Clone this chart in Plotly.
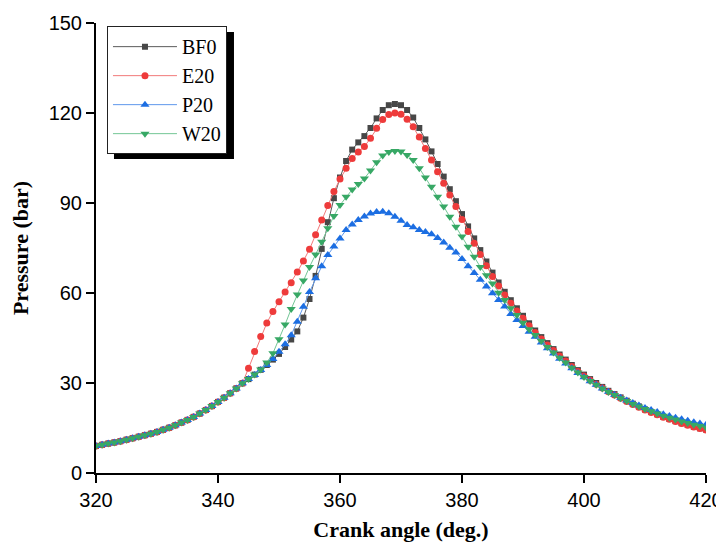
import plotly.graph_objects as go

crank_angle = list(range(320, 421))

bf0 = [9.0, 9.4, 9.8, 10.2, 10.6, 11.1, 11.6, 12.1, 12.6, 13.1,
       13.7, 14.4, 15.1, 15.9, 16.8, 17.7, 18.7, 19.8, 21.0, 22.3,
       23.7, 25.1, 26.6, 28.2, 29.9,
       31.3, 32.8, 34.4, 36.0, 37.8, 39.7, 42.0, 44.5, 47.2, 51.8,
       58.0, 65.7, 74.7, 83.6, 91.6, 98.5, 104.0, 107.8, 110.2, 112.3,
       115.0, 118.2, 121.0, 122.6, 123.0, 122.6, 121.0, 118.5, 115.0, 111.2,
       107.2, 103.0, 98.8, 94.6, 90.6, 86.3, 82.2, 78.2, 74.3, 70.5,
       66.8, 63.5, 60.4, 57.6, 54.9, 52.4, 49.9, 47.5,
       45.3, 43.3, 41.3, 39.5, 37.8, 36.0, 34.3, 32.8, 31.3, 30.0,
       28.7, 27.4, 26.3, 25.2, 24.1, 23.1, 22.2, 21.2, 20.4, 19.6,
       18.7, 18.0, 17.3, 16.6, 16.0, 15.4, 14.9, 14.5]

e20 = [9.0, 9.4, 9.8, 10.2, 10.6, 11.1, 11.6, 12.1, 12.6, 13.1,
       13.7, 14.4, 15.1, 15.9, 16.8, 17.7, 18.7, 19.8, 21.0, 22.3,
       23.7, 25.1, 26.6, 28.2, 29.9,
       34.9, 40.5, 45.5, 50.0, 53.8, 57.1, 60.3, 63.4, 67.0, 70.7,
       74.6, 79.4, 84.3, 89.2, 93.8, 98.0, 101.6, 104.8, 107.0, 108.8,
       111.6, 114.9, 117.8, 119.5, 120.0, 119.6, 117.9, 115.4, 112.0, 108.2,
       104.3, 100.4, 96.6, 92.7, 88.8, 84.5, 80.5, 76.6, 72.8, 69.1,
       65.5, 62.3, 59.3, 56.6, 54.0, 51.6, 49.1, 46.8,
       44.7, 42.7, 40.8, 39.0, 37.3, 35.5, 33.8, 32.3, 30.9, 29.6,
       28.3, 27.1, 26.0, 24.9, 23.8, 22.8, 21.9, 21.0, 20.2, 19.4,
       18.6, 17.9, 17.2, 16.5, 15.9, 15.3, 14.8, 14.3]

p20 = [9.0, 9.4, 9.8, 10.2, 10.6, 11.1, 11.6, 12.1, 12.6, 13.1,
       13.7, 14.4, 15.1, 15.9, 16.8, 17.7, 18.7, 19.8, 21.0, 22.3,
       23.7, 25.1, 26.6, 28.2, 29.9,
       31.3, 32.7, 34.3, 36.0, 38.0, 40.4, 42.9, 45.9, 50.4, 55.4,
       60.3, 64.9, 68.9, 72.7, 75.5, 78.2, 81.0, 82.8, 84.3, 85.5,
       86.5, 87.0, 87.1, 86.6, 85.4, 84.1, 82.7, 81.9, 81.0, 80.3,
       79.6, 78.3, 76.8, 75.1, 73.5, 71.3, 68.9, 66.7, 64.4, 62.2,
       59.9, 57.7, 55.5, 53.0, 51.0, 49.0, 47.1, 45.4,
       43.5, 41.6, 39.8, 38.1, 36.5, 34.9, 33.3, 31.9, 30.6, 29.4,
       28.2, 27.1, 26.1, 25.1, 24.2, 23.3, 22.5, 21.7, 21.0, 20.3,
       19.6, 19.0, 18.4, 17.9, 17.4, 16.9, 16.5, 16.1]

w20 = [9.0, 9.4, 9.8, 10.2, 10.6, 11.1, 11.6, 12.1, 12.6, 13.1,
       13.7, 14.4, 15.1, 15.9, 16.8, 17.7, 18.7, 19.8, 21.0, 22.3,
       23.7, 25.1, 26.6, 28.2, 29.9,
       31.3, 32.8, 34.5, 36.8, 39.9, 44.6, 49.5, 54.7, 59.5, 64.2,
       68.7, 72.8, 77.1, 81.6, 85.7, 89.3, 92.1, 94.5, 96.3, 98.2,
       100.8, 103.6, 105.8, 107.0, 107.3, 107.2, 106.0, 104.3, 101.6, 98.5,
       95.4, 92.1, 88.8, 85.4, 82.1, 78.8, 75.4, 72.1, 68.7, 65.9,
       63.2, 60.1, 57.7, 54.9, 52.7, 50.1, 47.9, 46.0,
       44.0, 42.0, 40.2, 38.4, 36.8, 35.1, 33.5, 32.0, 30.7, 29.4,
       28.2, 27.0, 26.0, 24.9, 24.0, 23.0, 22.2, 21.3, 20.6, 19.8,
       19.1, 18.4, 17.8, 17.2, 16.7, 16.1, 15.7, 15.2]

series_names = ["BF0", "E20", "P20", "W20"]
x_ticks = [320, 340, 360, 380, 400, 420]
y_ticks = [0, 30, 60, 90, 120, 150]

styles = [
    dict(line="#5a5a5a", marker="#474747", symbol="square", size=6),
    dict(line="#f27a7a", marker="#ee3b3b", symbol="circle", size=7),
    dict(line="#5f98ec", marker="#1c6ee2", symbol="triangle-up", size=8),
    dict(line="#74c696", marker="#37a865", symbol="triangle-down", size=8),
]

fig = go.Figure()
for name, ys, st in zip(series_names, [bf0, e20, p20, w20], styles):
    fig.add_trace(go.Scatter(
        x=crank_angle, y=ys, name=name, mode="lines+markers",
        line=dict(color=st["line"], width=1),
        marker=dict(color=st["marker"], symbol=st["symbol"], size=st["size"],
                    line=dict(width=0)),
    ))

serif = "Liberation Serif, Times New Roman, serif"
sans = "Liberation Sans, Arial, sans-serif"

# The page body has an 8px margin, so the figure is 8px smaller and its
# margins are shifted so the plot area lands at page x 96..706, y 23..473.
fig.update_layout(
    width=716, height=537,
    margin=dict(l=88, r=18, t=15, b=72, autoexpand=False),
    paper_bgcolor="white", plot_bgcolor="white",
    showlegend=True,
    legend=dict(
        x=0.018, y=0.993, xanchor="left", yanchor="top",
        bgcolor="white", bordercolor="#222222", borderwidth=1,
        font=dict(family=serif, size=20, color="black"),
        itemwidth=64, tracegroupgap=0,
    ),
    shapes=[dict(
        type="rect", xref="paper", yref="paper",
        x0=0.0295, x1=0.2262, y0=0.6978, y1=0.98,
        fillcolor="black", line=dict(width=0), layer="above",
    )],
)

fig.update_xaxes(
    range=[320, 420], tickvals=x_ticks, ticktext=[str(v) for v in x_ticks],
    showline=True, linecolor="black", linewidth=2, automargin=False,
    ticks="outside", ticklen=8, tickwidth=2, tickcolor="black",
    tickfont=dict(family=sans, size=20, color="black"),
    showgrid=False, zeroline=False,
    title=dict(text="<b>Crank angle (deg.)</b>",
               font=dict(family=serif, size=22, color="black"), standoff=12),
)
fig.update_yaxes(
    range=[0, 150], tickvals=y_ticks, ticktext=[str(v) for v in y_ticks],
    showline=True, linecolor="black", linewidth=2, automargin=False,
    ticks="outside", ticklen=8, tickwidth=2, tickcolor="black",
    tickfont=dict(family=sans, size=20, color="black"),
    showgrid=False, zeroline=False,
    title=dict(text="<b>Pressure (bar)</b>",
               font=dict(family=serif, size=22, color="black"), standoff=14),
)

fig.write_html("out.html")
